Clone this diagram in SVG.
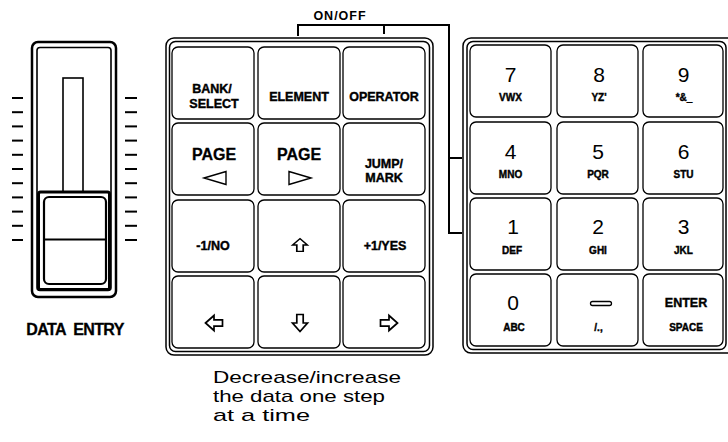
<svg xmlns="http://www.w3.org/2000/svg" width="728" height="442" viewBox="0 0 728 442">
<style>
.key{fill:#fff;stroke:#000;stroke-width:1.3}
.frame{fill:none;stroke:#000;stroke-width:1.5}
.lbl{font-family:"Liberation Sans",Arial,sans-serif;font-weight:bold;font-size:12.5px;text-anchor:middle;fill:#000;stroke:#000;stroke-width:0.4}
.pg{font-family:"Liberation Sans",Arial,sans-serif;font-weight:bold;font-size:16px;text-anchor:middle;fill:#000;stroke:#000;stroke-width:0.3}
.dig{font-family:"Liberation Sans",Arial,sans-serif;font-size:21px;text-anchor:middle;fill:#000}
.sm{font-family:"Liberation Sans",Arial,sans-serif;font-weight:bold;font-size:10px;text-anchor:middle;fill:#000;stroke:#000;stroke-width:0.4}
.arr{fill:#fff;stroke:#000;stroke-width:1.7;stroke-linejoin:miter}
.conn{fill:none;stroke:#000;stroke-width:2}
.tick{stroke:#000;stroke-width:2}
.note{font-family:"Liberation Sans",Arial,sans-serif;font-size:17px;fill:#000}
</style>
<defs>
<path id="arrowUp" d="M0,-8.5 L7.5,0 L3.2,0 L3.2,8.5 L-3.2,8.5 L-3.2,0 L-7.5,0 Z"/>
</defs>
<rect width="728" height="442" fill="#fff"/>

<g id="slider">
<rect x="32" y="42" width="84" height="255" rx="6" fill="none" stroke="#000" stroke-width="2.5"/>
<rect x="37" y="47.5" width="74" height="243" rx="3" fill="none" stroke="#000" stroke-width="1.6"/>
<rect x="38.5" y="192" width="71" height="97.5" rx="2" fill="none" stroke="#000" stroke-width="3"/>
<rect x="63" y="78" width="20" height="114" fill="none" stroke="#000" stroke-width="1.6"/>
<rect x="44" y="197" width="62" height="87" rx="5" fill="#fff" stroke="#000" stroke-width="2.2"/>
<line x1="44" y1="239.5" x2="106" y2="239.5" stroke="#000" stroke-width="2"/>
<g class="tick">
<line x1="12" y1="98" x2="23" y2="98"/><line x1="12" y1="112.2" x2="23" y2="112.2"/><line x1="12" y1="126.4" x2="23" y2="126.4"/><line x1="12" y1="140.6" x2="23" y2="140.6"/><line x1="12" y1="154.8" x2="23" y2="154.8"/><line x1="12" y1="169" x2="23" y2="169"/><line x1="12" y1="183.2" x2="23" y2="183.2"/><line x1="12" y1="197.4" x2="23" y2="197.4"/><line x1="12" y1="211.6" x2="23" y2="211.6"/><line x1="12" y1="225.8" x2="23" y2="225.8"/><line x1="12" y1="240" x2="23" y2="240"/>
<line x1="125" y1="98" x2="137" y2="98"/><line x1="125" y1="112.2" x2="137" y2="112.2"/><line x1="125" y1="126.4" x2="137" y2="126.4"/><line x1="125" y1="140.6" x2="137" y2="140.6"/><line x1="125" y1="154.8" x2="137" y2="154.8"/><line x1="125" y1="169" x2="137" y2="169"/><line x1="125" y1="183.2" x2="137" y2="183.2"/><line x1="125" y1="197.4" x2="137" y2="197.4"/><line x1="125" y1="211.6" x2="137" y2="211.6"/><line x1="125" y1="225.8" x2="137" y2="225.8"/><line x1="125" y1="240" x2="137" y2="240"/>
</g>
<text x="75" y="335" font-family="'Liberation Sans',Arial,sans-serif" font-weight="bold" font-size="16" letter-spacing="-0.6" word-spacing="4" text-anchor="middle" stroke="#000" stroke-width="0.3">DATA ENTRY</text>
</g>

<g id="left-pad">
<rect x="166" y="38" width="267" height="317" rx="8" class="frame"/>
<rect x="169.5" y="41.5" width="260" height="310" rx="6" class="frame" stroke-width="1.2"/>
</g>

<g id="key-bank"><rect x="172" y="47" width="82" height="72" rx="6" class="key"/><text x="212" y="93" class="lbl">BANK/</text><text x="214" y="108" class="lbl">SELECT</text></g>
<g id="key-element"><rect x="258" y="47" width="82" height="72" rx="6" class="key"/><text x="299" y="101" class="lbl">ELEMENT</text></g>
<g id="key-operator"><rect x="343" y="47" width="82" height="72" rx="6" class="key"/><text x="384" y="101" class="lbl">OPERATOR</text></g>

<g id="key-page-left"><rect x="172" y="123" width="82" height="72" rx="6" class="key"/><text x="214" y="160" class="pg">PAGE</text><path d="M204,178 L226,171.5 L226,184.5 Z" fill="none" stroke="#000" stroke-width="1.4"/></g>
<g id="key-page-right"><rect x="258" y="123" width="82" height="72" rx="6" class="key"/><text x="299" y="160" class="pg">PAGE</text><path d="M311,178 L289,171.5 L289,184.5 Z" fill="none" stroke="#000" stroke-width="1.4"/></g>
<g id="key-jump"><rect x="343" y="123" width="82" height="72" rx="6" class="key"/><text x="384" y="168" class="lbl">JUMP/</text><text x="384" y="182" class="lbl">MARK</text></g>

<g id="key-minus"><rect x="172" y="200" width="82" height="72" rx="6" class="key"/><text x="213" y="250" class="lbl">-1/NO</text></g>
<g id="key-up"><rect x="258" y="200" width="82" height="72" rx="6" class="key"/><use href="#arrowUp" class="arr" transform="translate(300,245) scale(1,0.75)"/></g>
<g id="key-plus"><rect x="343" y="200" width="82" height="72" rx="6" class="key"/><text x="385" y="250" class="lbl">+1/YES</text></g>

<g id="key-left"><rect x="172" y="276" width="82" height="72" rx="6" class="key"/><use href="#arrowUp" class="arr" transform="translate(214,323) rotate(-90)"/></g>
<g id="key-down"><rect x="258" y="276" width="82" height="72" rx="6" class="key"/><use href="#arrowUp" class="arr" transform="translate(300,323) rotate(180)"/></g>
<g id="key-right"><rect x="343" y="276" width="82" height="72" rx="6" class="key"/><use href="#arrowUp" class="arr" transform="translate(389,323) rotate(90)"/></g>

<g id="right-pad">
<rect x="463" y="38" width="280" height="315" rx="8" class="frame"/>
<rect x="467" y="41.5" width="259" height="308" rx="6" class="frame" stroke-width="1.2"/>
</g>

<g id="key-7"><rect x="470" y="45" width="81" height="72" rx="6" class="key"/><text x="510.5" y="82" class="dig">7</text><text x="510.5" y="101" class="sm">VWX</text></g>
<g id="key-8"><rect x="557" y="45" width="81" height="72" rx="6" class="key"/><text x="599" y="82" class="dig">8</text><text x="599" y="101" class="sm">YZ'</text></g>
<g id="key-9"><rect x="643" y="45" width="80" height="72" rx="6" class="key"/><text x="683.5" y="82" class="dig">9</text><text x="684" y="101" class="sm">*&amp;_</text></g>

<g id="key-4"><rect x="470" y="122" width="81" height="72" rx="6" class="key"/><text x="510.5" y="159" class="dig">4</text><text x="510.5" y="178" class="sm">MNO</text></g>
<g id="key-5"><rect x="557" y="122" width="81" height="72" rx="6" class="key"/><text x="598" y="159" class="dig">5</text><text x="598" y="178" class="sm">PQR</text></g>
<g id="key-6"><rect x="643" y="122" width="80" height="72" rx="6" class="key"/><text x="683.5" y="159" class="dig">6</text><text x="683.5" y="178" class="sm">STU</text></g>

<g id="key-1"><rect x="470" y="198" width="81" height="72" rx="6" class="key"/><text x="513" y="234" class="dig">1</text><text x="512" y="254" class="sm">DEF</text></g>
<g id="key-2"><rect x="557" y="198" width="81" height="72" rx="6" class="key"/><text x="598" y="234" class="dig">2</text><text x="598" y="254" class="sm">GHI</text></g>
<g id="key-3"><rect x="643" y="198" width="80" height="72" rx="6" class="key"/><text x="683.5" y="234" class="dig">3</text><text x="683.5" y="254" class="sm">JKL</text></g>

<g id="key-0"><rect x="470" y="274" width="81" height="72" rx="6" class="key"/><text x="513" y="310" class="dig">0</text><text x="514" y="331" class="sm">ABC</text></g>
<g id="key-dash"><rect x="557" y="274" width="81" height="72" rx="6" class="key"/><rect x="590.5" y="301.5" width="21" height="4" rx="2" fill="#fff" stroke="#000" stroke-width="1.3"/><text x="598.5" y="331" class="sm">/.,</text></g>
<g id="key-enter"><rect x="643" y="274" width="80" height="72" rx="6" class="key"/><text x="686" y="307" class="lbl" font-size="12">ENTER</text><text x="686" y="331" class="sm">SPACE</text></g>

<g id="connectors">
<path class="conn" d="M298,36 V25 H449 V233 H462"/>
<path class="conn" d="M384,25 V34"/>
<path class="conn" d="M449,158 H462"/>
</g>
<g id="onoff-label"><text x="340" y="20" font-family="'Liberation Sans',Arial,sans-serif" font-weight="bold" font-size="12.5" letter-spacing="1" text-anchor="middle">ON/OFF</text></g>

<g id="note">
<text x="213" y="383" class="note" textLength="188" lengthAdjust="spacingAndGlyphs">Decrease/increase</text>
<text x="213" y="402" class="note" textLength="172" lengthAdjust="spacingAndGlyphs">the data one step</text>
<text x="213" y="421" class="note" textLength="97" lengthAdjust="spacingAndGlyphs">at a time</text>
</g>
</svg>
